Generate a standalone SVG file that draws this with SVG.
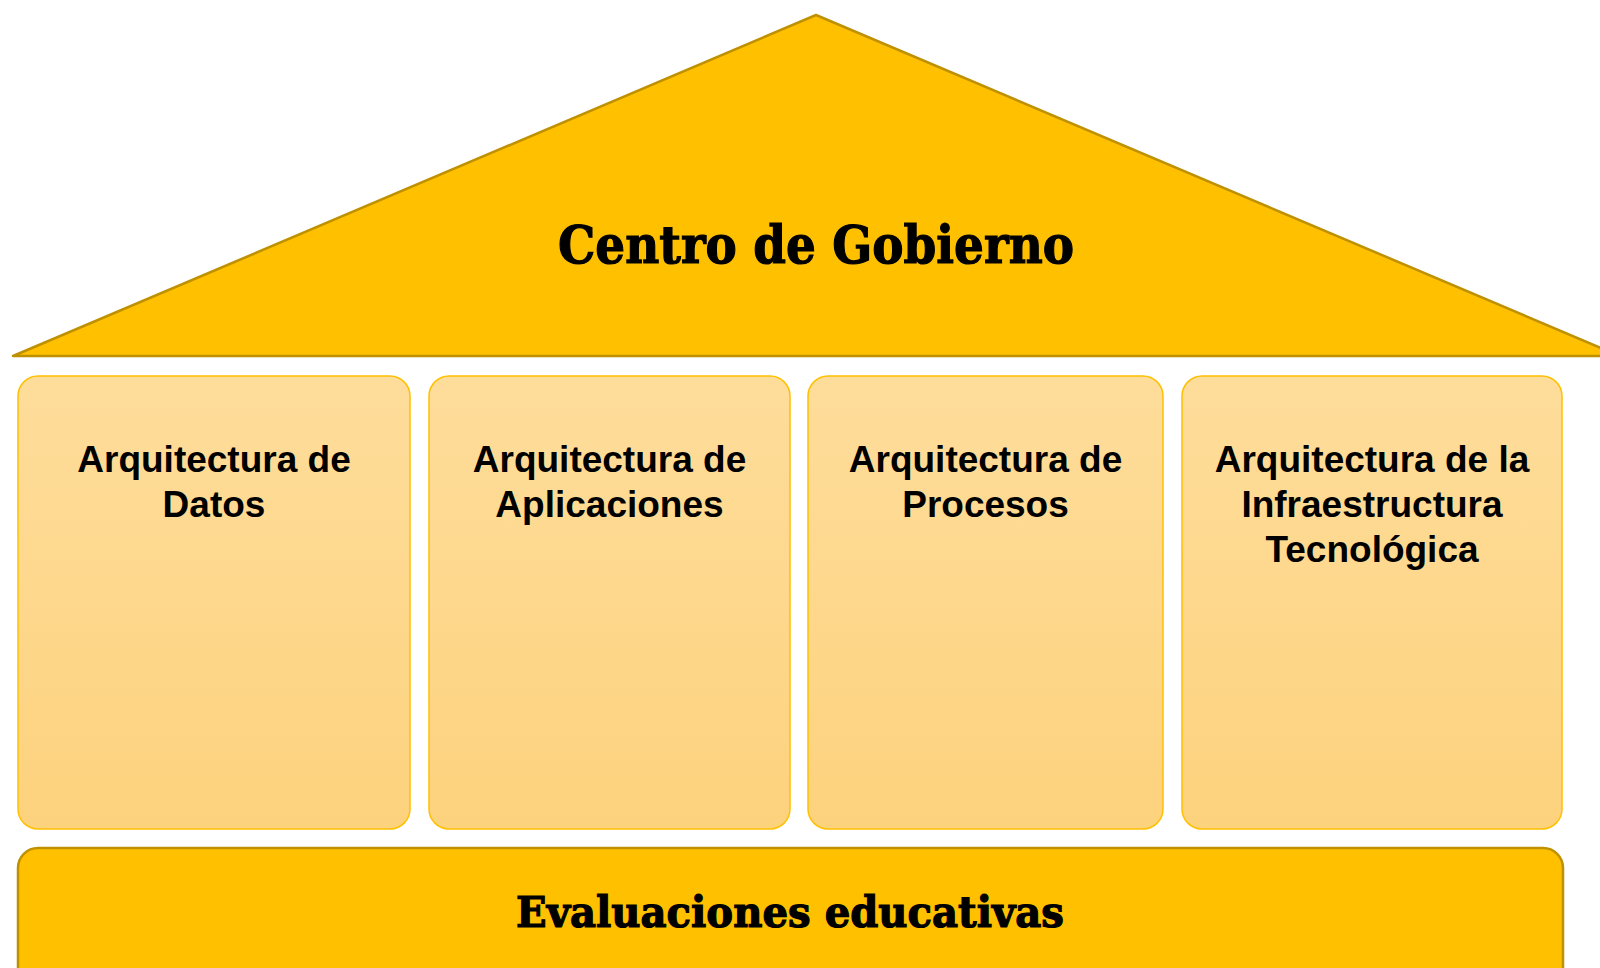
<svg xmlns="http://www.w3.org/2000/svg" width="1600" height="968" viewBox="0 0 1600 968">
  <defs>
    <linearGradient id="pillarFill" x1="0" y1="0" x2="0" y2="1">
      <stop offset="0" stop-color="#FEDD9B"/>
      <stop offset="1" stop-color="#FDD27D"/>
    </linearGradient>
    <style>
      .roof { fill: #FFC000; stroke: #BF9000; stroke-width: 2.5; stroke-linejoin: round; }
      .pillar { fill: url(#pillarFill); stroke: #FFC000; stroke-width: 1.5; }
      .base { fill: #FFC000; stroke: #BF9000; stroke-width: 2.5; }
      .slab { font-family: "DejaVu Serif", "Liberation Serif", serif; font-weight: bold; fill: #000; stroke: #000; stroke-width: 1.2; text-anchor: middle; }
      .label { font-family: "Liberation Sans", Arial, sans-serif; font-weight: bold; font-size: 37px; fill: #000; text-anchor: middle; }
    </style>
  </defs>
  <rect width="1600" height="968" fill="#FFFFFF"/>

  <g id="roof">
    <polygon class="roof" points="816,15 1620,356 13,356"/>
    <text class="slab" x="816" y="263" font-size="52" textLength="516" lengthAdjust="spacingAndGlyphs">Centro de Gobierno</text>
  </g>

  <g id="pillar-datos">
    <rect class="pillar" x="18" y="376" width="392" height="453" rx="20" ry="20"/>
    <text class="label" x="214" y="472">Arquitectura de</text>
    <text class="label" x="214" y="517">Datos</text>
  </g>

  <g id="pillar-aplicaciones">
    <rect class="pillar" x="429" y="376" width="361" height="453" rx="20" ry="20"/>
    <text class="label" x="609.5" y="472">Arquitectura de</text>
    <text class="label" x="609.5" y="517">Aplicaciones</text>
  </g>

  <g id="pillar-procesos">
    <rect class="pillar" x="808" y="376" width="355" height="453" rx="20" ry="20"/>
    <text class="label" x="985.5" y="472">Arquitectura de</text>
    <text class="label" x="985.5" y="517">Procesos</text>
  </g>

  <g id="pillar-infraestructura">
    <rect class="pillar" x="1182" y="376" width="380" height="453" rx="20" ry="20"/>
    <text class="label" x="1372" y="472">Arquitectura de la</text>
    <text class="label" x="1372" y="517">Infraestructura</text>
    <text class="label" x="1372" y="562">Tecnológica</text>
  </g>

  <g id="base">
    <rect class="base" x="18" y="848" width="1545" height="150" rx="20" ry="20"/>
    <text class="slab" x="790" y="927" font-size="42" textLength="548" lengthAdjust="spacingAndGlyphs">Evaluaciones educativas</text>
  </g>

  <g id="connectors"></g>
</svg>
